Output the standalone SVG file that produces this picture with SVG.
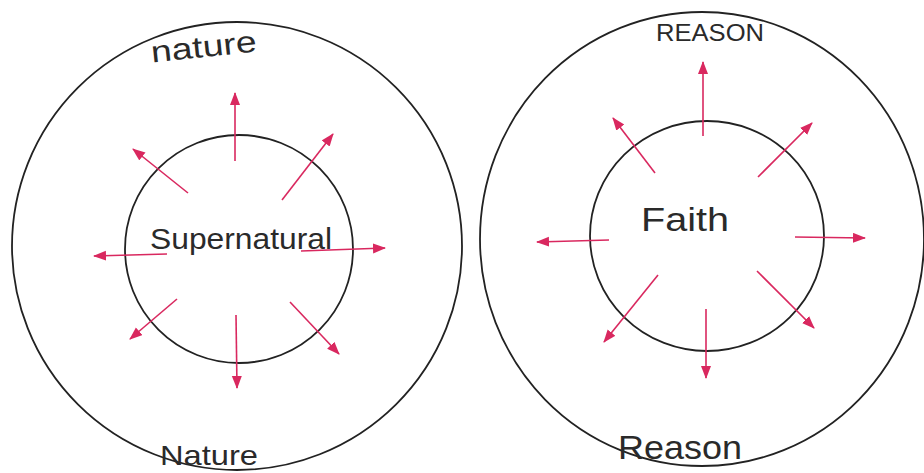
<svg xmlns="http://www.w3.org/2000/svg" width="924" height="473" viewBox="0 0 924 473">
<style>
.ring{fill:none;stroke:#222;stroke-width:1.8}
.arr{fill:none;stroke:#d9285f;stroke-width:1.6;marker-end:url(#ah)}
.lbl{font-family:"Liberation Sans","DejaVu Sans",sans-serif;fill:#2a2a2a;font-weight:normal}
</style>
<defs>
<marker id="ah" markerUnits="userSpaceOnUse" markerWidth="14" markerHeight="12" refX="12" refY="5" orient="auto">
<path d="M0,0 L13,5 L0,10 Z" fill="#d9285f"/>
</marker>
</defs>
<rect width="924" height="473" fill="#fff"/>
<g id="nature-circle">
<ellipse class="ring" cx="237" cy="246" rx="225" ry="224"/>
<text class="lbl" x="204" y="57" font-size="30" text-anchor="middle" textLength="106" lengthAdjust="spacingAndGlyphs" transform="rotate(-6 204 50)">nature</text>
<text class="lbl" x="209" y="465" font-size="28" text-anchor="middle" textLength="98" lengthAdjust="spacingAndGlyphs">Nature</text>
</g>
<g id="supernatural-circle">
<ellipse class="ring" cx="239" cy="249" rx="114" ry="114"/>
<text class="lbl" x="241" y="249" font-size="29" text-anchor="middle" textLength="182" lengthAdjust="spacingAndGlyphs">Supernatural</text>
</g>
<g id="reason-circle">
<ellipse class="ring" cx="702" cy="239" rx="222" ry="227"/>
<text class="lbl" x="710" y="41" font-size="24" text-anchor="middle" textLength="108" lengthAdjust="spacingAndGlyphs">REASON</text>
<text class="lbl" x="680" y="459" font-size="34" text-anchor="middle" textLength="124" lengthAdjust="spacingAndGlyphs">Reason</text>
</g>
<g id="faith-circle">
<ellipse class="ring" cx="707" cy="236" rx="117" ry="115"/>
<text class="lbl" x="685" y="231" font-size="34" text-anchor="middle" textLength="88" lengthAdjust="spacingAndGlyphs">Faith</text>
</g>
<g id="connectors">
<line class="arr" x1="235" y1="161" x2="235" y2="93"/>
<line class="arr" x1="282" y1="200" x2="333" y2="134"/>
<line class="arr" x1="188" y1="193" x2="133" y2="149"/>
<line class="arr" x1="167" y1="254" x2="94" y2="256"/>
<line class="arr" x1="301" y1="251" x2="385" y2="248"/>
<line class="arr" x1="177" y1="299" x2="130" y2="339"/>
<line class="arr" x1="236" y1="315" x2="237" y2="388"/>
<line class="arr" x1="290" y1="302" x2="339" y2="354"/>
<line class="arr" x1="703" y1="136" x2="703" y2="62"/>
<line class="arr" x1="655" y1="173" x2="613" y2="118"/>
<line class="arr" x1="758" y1="177" x2="812" y2="123"/>
<line class="arr" x1="609" y1="240" x2="537" y2="242"/>
<line class="arr" x1="795" y1="237" x2="865" y2="238"/>
<line class="arr" x1="658" y1="275" x2="604" y2="342"/>
<line class="arr" x1="706" y1="309" x2="706" y2="378"/>
<line class="arr" x1="757" y1="271" x2="814" y2="328"/>
</g>
</svg>
